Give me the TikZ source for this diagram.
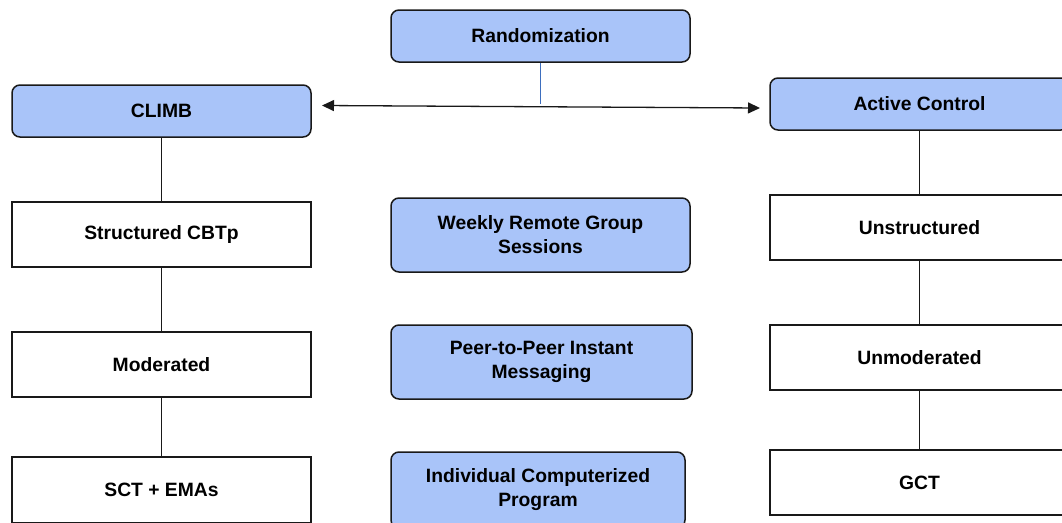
\documentclass[tikz,border=0pt]{standalone}
\usepackage{fontspec}
\setmainfont{Liberation Sans}
\usetikzlibrary{arrows.meta}
\definecolor{boxblue}{RGB}{169,196,249}
\definecolor{edge}{RGB}{25,25,25}
\definecolor{lineblue}{RGB}{61,110,190}
\begin{document}
\begin{tikzpicture}[x=1pt,y=-1pt,
  base/.style={draw=edge,line width=1.5pt,inner sep=0pt,align=center,
    font=\fontsize{19.3}{24}\selectfont\bfseries,text=black},
  bluebox/.style={base,fill=boxblue,rounded corners=8pt},
  whitebox/.style={base,fill=white},
  link/.style={draw=edge,line width=1.6pt}]
\useasboundingbox (0,0) rectangle (1062,522);
\clip (0,0) rectangle (1062,522);
% center column
\node[bluebox,minimum width=299pt,minimum height=52pt] (rand) at (540.5,36) {Randomization};
\node[bluebox,minimum width=299pt,minimum height=74pt] (weekly) at (540.5,235) {Weekly Remote Group\\Sessions};
\node[bluebox,minimum width=301pt,minimum height=74pt] (peer) at (541.5,362) {Peer-to-Peer Instant\\Messaging};
\node[bluebox,minimum width=294pt,minimum height=76pt] (indiv) at (538,490) {Individual Computerized\\Program};
% left column
\node[bluebox,minimum width=299pt,minimum height=52pt] (climb) at (161.5,111) {CLIMB};
\node[whitebox,minimum width=299pt,minimum height=65pt] (scbtp) at (161.5,234.5) {Structured CBTp};
\node[whitebox,minimum width=299pt,minimum height=65pt] (mod) at (161.5,364.5) {Moderated};
\node[whitebox,minimum width=299pt,minimum height=66pt] (sct) at (161.5,490) {SCT + EMAs};
% right column
\node[bluebox,minimum width=299pt,minimum height=52pt] (active) at (919.5,104) {Active Control};
\node[whitebox,minimum width=299pt,minimum height=65pt] (unstr) at (919.5,227.5) {Unstructured};
\node[whitebox,minimum width=299pt,minimum height=65pt] (unmod) at (919.5,357.5) {Unmoderated};
\node[whitebox,minimum width=299pt,minimum height=65pt] (gct) at (919.5,482.5) {GCT};
% connectors
\draw[link] (climb) -- (scbtp);
\draw[link] (scbtp) -- (mod);
\draw[link] (mod) -- (sct);
\draw[link] (active) -- (unstr);
\draw[link] (unstr) -- (unmod);
\draw[link] (unmod) -- (gct);
\coordinate (la) at (322,105.5);
\coordinate (ra) at (760,108);
\coordinate (mid) at (540.5,104);
\draw[draw=lineblue,line width=1.5pt] (rand.south) -- (mid);
\draw[draw=edge,line width=1.3pt,{Triangle[length=12pt,width=11pt]}-{Triangle[length=12pt,width=11pt]}] (la) -- (ra);
\end{tikzpicture}
\end{document}
